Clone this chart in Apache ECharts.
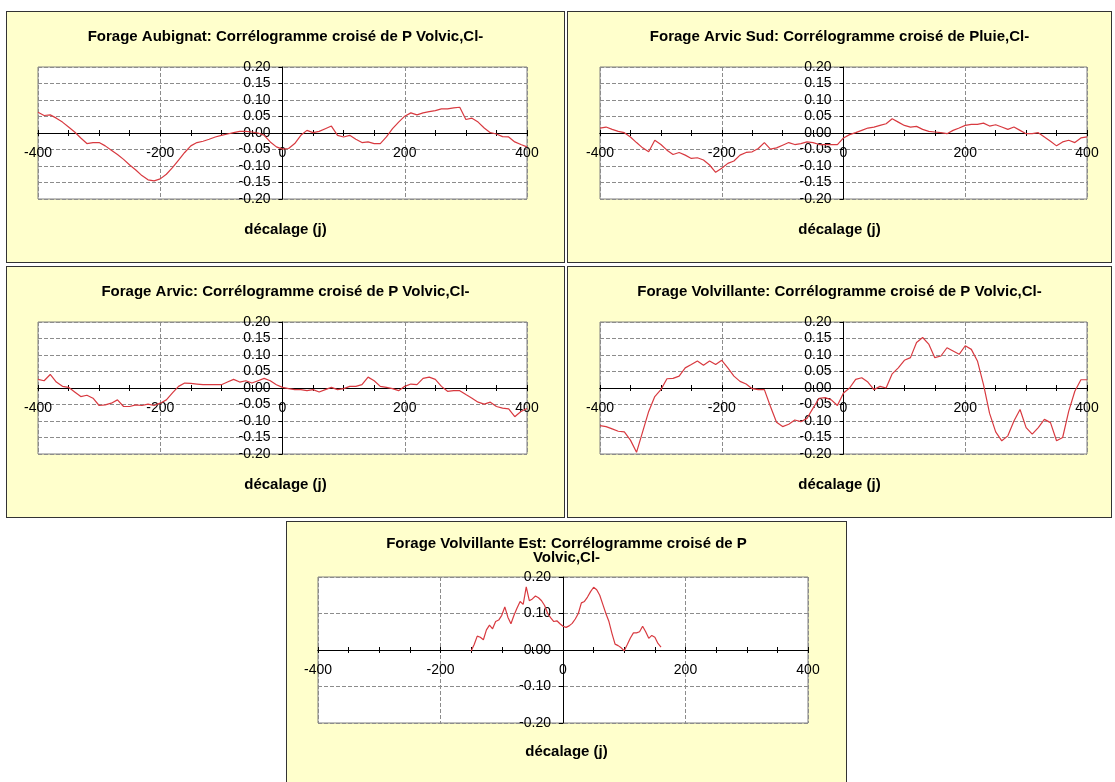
<!DOCTYPE html>
<html>
<head>
<meta charset="utf-8">
<script src="https://cdn.jsdelivr.net/npm/echarts@6/dist/echarts.min.js"></script>
<style>
body { margin: 0; background: #fff; width: 1115px; height: 782px; overflow: hidden; position: relative; }
.panel { position: absolute; box-sizing: border-box; border: 1px solid #333; background: #FFFFCC; }
</style>
</head>
<body>
<div id="p1" class="panel" style="left:6px;top:11px;width:559px;height:252px"></div>
<div id="p2" class="panel" style="left:567px;top:11px;width:545px;height:252px"></div>
<div id="p3" class="panel" style="left:6px;top:266px;width:559px;height:252px"></div>
<div id="p4" class="panel" style="left:567px;top:266px;width:545px;height:252px"></div>
<div id="p5" class="panel" style="left:286px;top:521px;width:561px;height:265px"></div>
<script>
var fontName = 'Arial, "Liberation Sans", sans-serif';

var lags = [
    -400, -390, -380, -370, -360, -350, -340, -330, -320, -310,
    -300, -290, -280, -270, -260, -250, -240, -230, -220, -210,
    -200, -190, -180, -170, -160, -150, -140, -130, -120, -110,
    -100, -90, -80, -70, -60, -50, -40, -30, -20, -10,
    0, 10, 20, 30, 40, 50, 60, 70, 80, 90,
    100, 110, 120, 130, 140, 150, 160, 170, 180, 190,
    200, 210, 220, 230, 240, 250, 260, 270, 280, 290,
    300, 310, 320, 330, 340, 350, 360, 370, 380, 390,
    400
];

var lagsEst = [
    -150, -145, -140, -135, -130, -125, -120, -115, -110, -105,
    -100, -95, -90, -85, -80, -75, -70, -65, -60, -55,
    -50, -45, -40, -35, -30, -25, -20, -15, -10, -5,
    0, 5, 10, 15, 20, 25, 30, 35, 40, 45,
    50, 55, 60, 65, 70, 75, 80, 85, 90, 95,
    100, 105, 110, 115, 120, 125, 130, 135, 140, 145,
    150, 155, 160
];

var aubignat = [
    0.063, 0.053, 0.055, 0.045, 0.033, 0.018, 0.003, -0.015, -0.032, -0.029,
    -0.029, -0.039, -0.052, -0.065, -0.080, -0.097, -0.112, -0.129, -0.142, -0.145,
    -0.139, -0.125, -0.105, -0.082, -0.059, -0.039, -0.029, -0.025, -0.019, -0.012,
    -0.007, -0.003, 0.001, 0.005, 0.005, 0.003, 0.000, -0.007, -0.027, -0.042,
    -0.049, -0.047, -0.032, -0.007, 0.008, 0.001, 0.005, 0.013, 0.021, -0.007,
    -0.012, -0.007, -0.019, -0.029, -0.027, -0.032, -0.032, -0.012, 0.013, 0.033,
    0.051, 0.061, 0.055, 0.061, 0.065, 0.068, 0.073, 0.073, 0.076, 0.078,
    0.041, 0.045, 0.033, 0.015, 0.001, -0.003, -0.011, -0.012, -0.027, -0.035,
    -0.042
];

var arvicSud = [
    0.015, 0.018, 0.011, 0.005, 0.001, -0.012, -0.029, -0.045, -0.057, -0.022,
    -0.035, -0.052, -0.065, -0.059, -0.067, -0.077, -0.075, -0.082, -0.097, -0.119,
    -0.107, -0.092, -0.085, -0.067, -0.059, -0.057, -0.047, -0.029, -0.049, -0.045,
    -0.037, -0.029, -0.035, -0.032, -0.027, -0.029, -0.035, -0.035, -0.035, -0.035,
    -0.015, -0.005, 0.001, 0.008, 0.015, 0.018, 0.023, 0.028, 0.043, 0.033,
    0.023, 0.018, 0.020, 0.011, 0.005, 0.003, 0.001, -0.002, 0.008, 0.015,
    0.023, 0.026, 0.026, 0.030, 0.021, 0.025, 0.018, 0.011, 0.018, 0.008,
    -0.002, -0.002, 0.001, -0.012, -0.025, -0.039, -0.027, -0.022, -0.029, -0.015,
    -0.012
];

var arvic = [
    0.026, 0.022, 0.041, 0.018, 0.005, 0.002, -0.012, -0.026, -0.022, -0.031,
    -0.053, -0.051, -0.046, -0.036, -0.056, -0.056, -0.051, -0.053, -0.049, -0.053,
    -0.046, -0.036, -0.015, 0.005, 0.015, 0.014, 0.012, 0.010, 0.010, 0.010,
    0.010, 0.018, 0.026, 0.018, 0.022, 0.015, 0.022, 0.029, 0.022, 0.010,
    0.002, -0.002, -0.005, -0.005, -0.008, -0.005, -0.012, -0.005, 0.002, -0.005,
    -0.002, 0.005, 0.005, 0.010, 0.033, 0.022, 0.005, 0.002, -0.002, -0.008,
    0.005, 0.012, 0.010, 0.029, 0.033, 0.026, 0.005, -0.010, -0.008, -0.008,
    -0.020, -0.031, -0.043, -0.049, -0.043, -0.056, -0.061, -0.063, -0.087, -0.071,
    -0.062
];

var volvillante = [
    -0.114, -0.117, -0.124, -0.131, -0.133, -0.158, -0.195, -0.133, -0.071, -0.026,
    -0.005, 0.028, 0.029, 0.036, 0.061, 0.071, 0.082, 0.069, 0.082, 0.071,
    0.084, 0.061, 0.036, 0.020, 0.012, -0.002, -0.005, -0.005, -0.056, -0.104,
    -0.117, -0.110, -0.097, -0.102, -0.092, -0.061, -0.031, -0.029, -0.036, -0.053,
    -0.015, 0.000, 0.026, 0.031, 0.018, -0.005, 0.005, 0.000, 0.043, 0.061,
    0.084, 0.092, 0.138, 0.153, 0.133, 0.092, 0.097, 0.122, 0.112, 0.102,
    0.128, 0.117, 0.082, 0.010, -0.077, -0.133, -0.160, -0.145, -0.100, -0.065,
    -0.120, -0.140, -0.120, -0.095, -0.105, -0.160, -0.150, -0.070, -0.010, 0.025,
    0.025
];

var volvillanteEst = [
    -0.003, 0.015, 0.038, 0.035, 0.028, 0.055, 0.068, 0.058, 0.078, 0.082,
    0.095, 0.118, 0.090, 0.072, 0.095, 0.115, 0.133, 0.125, 0.173, 0.135,
    0.140, 0.148, 0.143, 0.135, 0.122, 0.100, 0.088, 0.078, 0.080, 0.072,
    0.065, 0.062, 0.066, 0.073, 0.085, 0.100, 0.129, 0.133, 0.145, 0.160,
    0.172, 0.165, 0.150, 0.125, 0.100, 0.078, 0.045, 0.016, 0.012, 0.006,
    -0.002, 0.015, 0.033, 0.047, 0.047, 0.050, 0.065, 0.050, 0.032, 0.040,
    0.035, 0.018, 0.008
];

var titles = [
    'Forage Aubignat: Corrélogramme croisé de P Volvic,Cl-',
    'Forage Arvic Sud: Corrélogramme croisé de Pluie,Cl-',
    'Forage Arvic: Corrélogramme croisé de P Volvic,Cl-',
    'Forage Volvillante: Corrélogramme croisé de P Volvic,Cl-',
    'Forage Volvillante Est: Corrélogramme croisé de P\nVolvic,Cl-'
];
var xName = 'décalage (j)';

function pairs(xs, ys) {
    var out = [];
    for (var i = 0; i < xs.length; i++) {
        out.push([xs[i], ys[i]]);
    }
    return out;
}

function drawPanel(id, titleText, data, box) {
    var myChart = echarts.init(document.getElementById(id));
    var textStyle = {
        fontFamily: fontName,
        fontSize: 15,
        fontWeight: 'bold',
        color: '#000',
        lineHeight: 14
    };
    // axes cross at zero, like the Excel original: shift them into the middle of the plot
    var xOff = -box.height / 2;
    var yOff = -box.width / 2;
    var option = {
        animation: false,
        title: [
            { text: titleText, left: 'center', top: box.titleTop, textStyle: textStyle },
            { text: xName, left: 'center', top: box.nameTop, textStyle: textStyle }
        ],
        grid: {
            left: box.left, top: box.top, width: box.width, height: box.height,
            show: true, backgroundColor: '#fff', borderColor: '#808080', borderWidth: 1
        },
        xAxis: [
            {
                type: 'value', min: -400, max: 400, interval: 50, position: 'bottom', offset: xOff,
                axisLine: { onZero: false, lineStyle: { color: '#000', width: 1 } },
                axisTick: { length: 3, lineStyle: { color: '#000' } },
                axisLabel: {
                    formatter: function (v) { return v % 200 === 0 ? String(v) : ''; },
                    fontSize: 14, color: '#000', margin: 13, fontFamily: fontName
                },
                splitLine: { show: false }
            },
            {
                type: 'value', min: -400, max: 400, interval: 50, position: 'bottom', offset: xOff,
                axisLine: { onZero: false, lineStyle: { color: '#000', width: 1 } },
                axisTick: { inside: true, length: 3, lineStyle: { color: '#000' } },
                axisLabel: { show: false },
                splitLine: { show: false }
            },
            {
                type: 'value', min: -400, max: 400, interval: 200, position: 'bottom',
                axisLine: { show: false, onZero: false },
                axisTick: { show: false },
                axisLabel: { show: false },
                splitLine: { show: true, lineStyle: { color: '#8c8c8c', type: 'dashed' } }
            }
        ],
        yAxis: {
            type: 'value', min: -0.2, max: 0.2, interval: box.yStep, position: 'left', offset: yOff,
            axisLine: { onZero: false, lineStyle: { color: '#000', width: 1 } },
            axisTick: { length: 4, lineStyle: { color: '#000' } },
            axisLabel: {
                formatter: function (v) { return v.toFixed(2); },
                fontSize: 14, color: '#000', margin: 12, fontFamily: fontName
            },
            splitLine: { lineStyle: { color: '#8c8c8c', type: 'dashed' } }
        },
        series: [
            {
                type: 'line',
                data: data,
                xAxisIndex: 0,
                yAxisIndex: 0,
                symbol: 'none',
                lineStyle: { color: '#d83a40', width: 1.2 },
                z: 3
            }
        ]
    };
    myChart.setOption(option);
}

var boxLeft = { left: 31, top: 55, width: 489, height: 132, titleTop: 13, nameTop: 206, yStep: 0.05 };
var boxRight = { left: 32, top: 55, width: 487, height: 132, titleTop: 13, nameTop: 206, yStep: 0.05 };
var boxEst = { left: 31, top: 55, width: 490, height: 146, titleTop: 10, nameTop: 218, yStep: 0.1 };

drawPanel('p1', titles[0], pairs(lags, aubignat), boxLeft);
drawPanel('p2', titles[1], pairs(lags, arvicSud), boxRight);
drawPanel('p3', titles[2], pairs(lags, arvic), boxLeft);
drawPanel('p4', titles[3], pairs(lags, volvillante), boxRight);
drawPanel('p5', titles[4], pairs(lagsEst, volvillanteEst), boxEst);
</script>
</body>
</html>
